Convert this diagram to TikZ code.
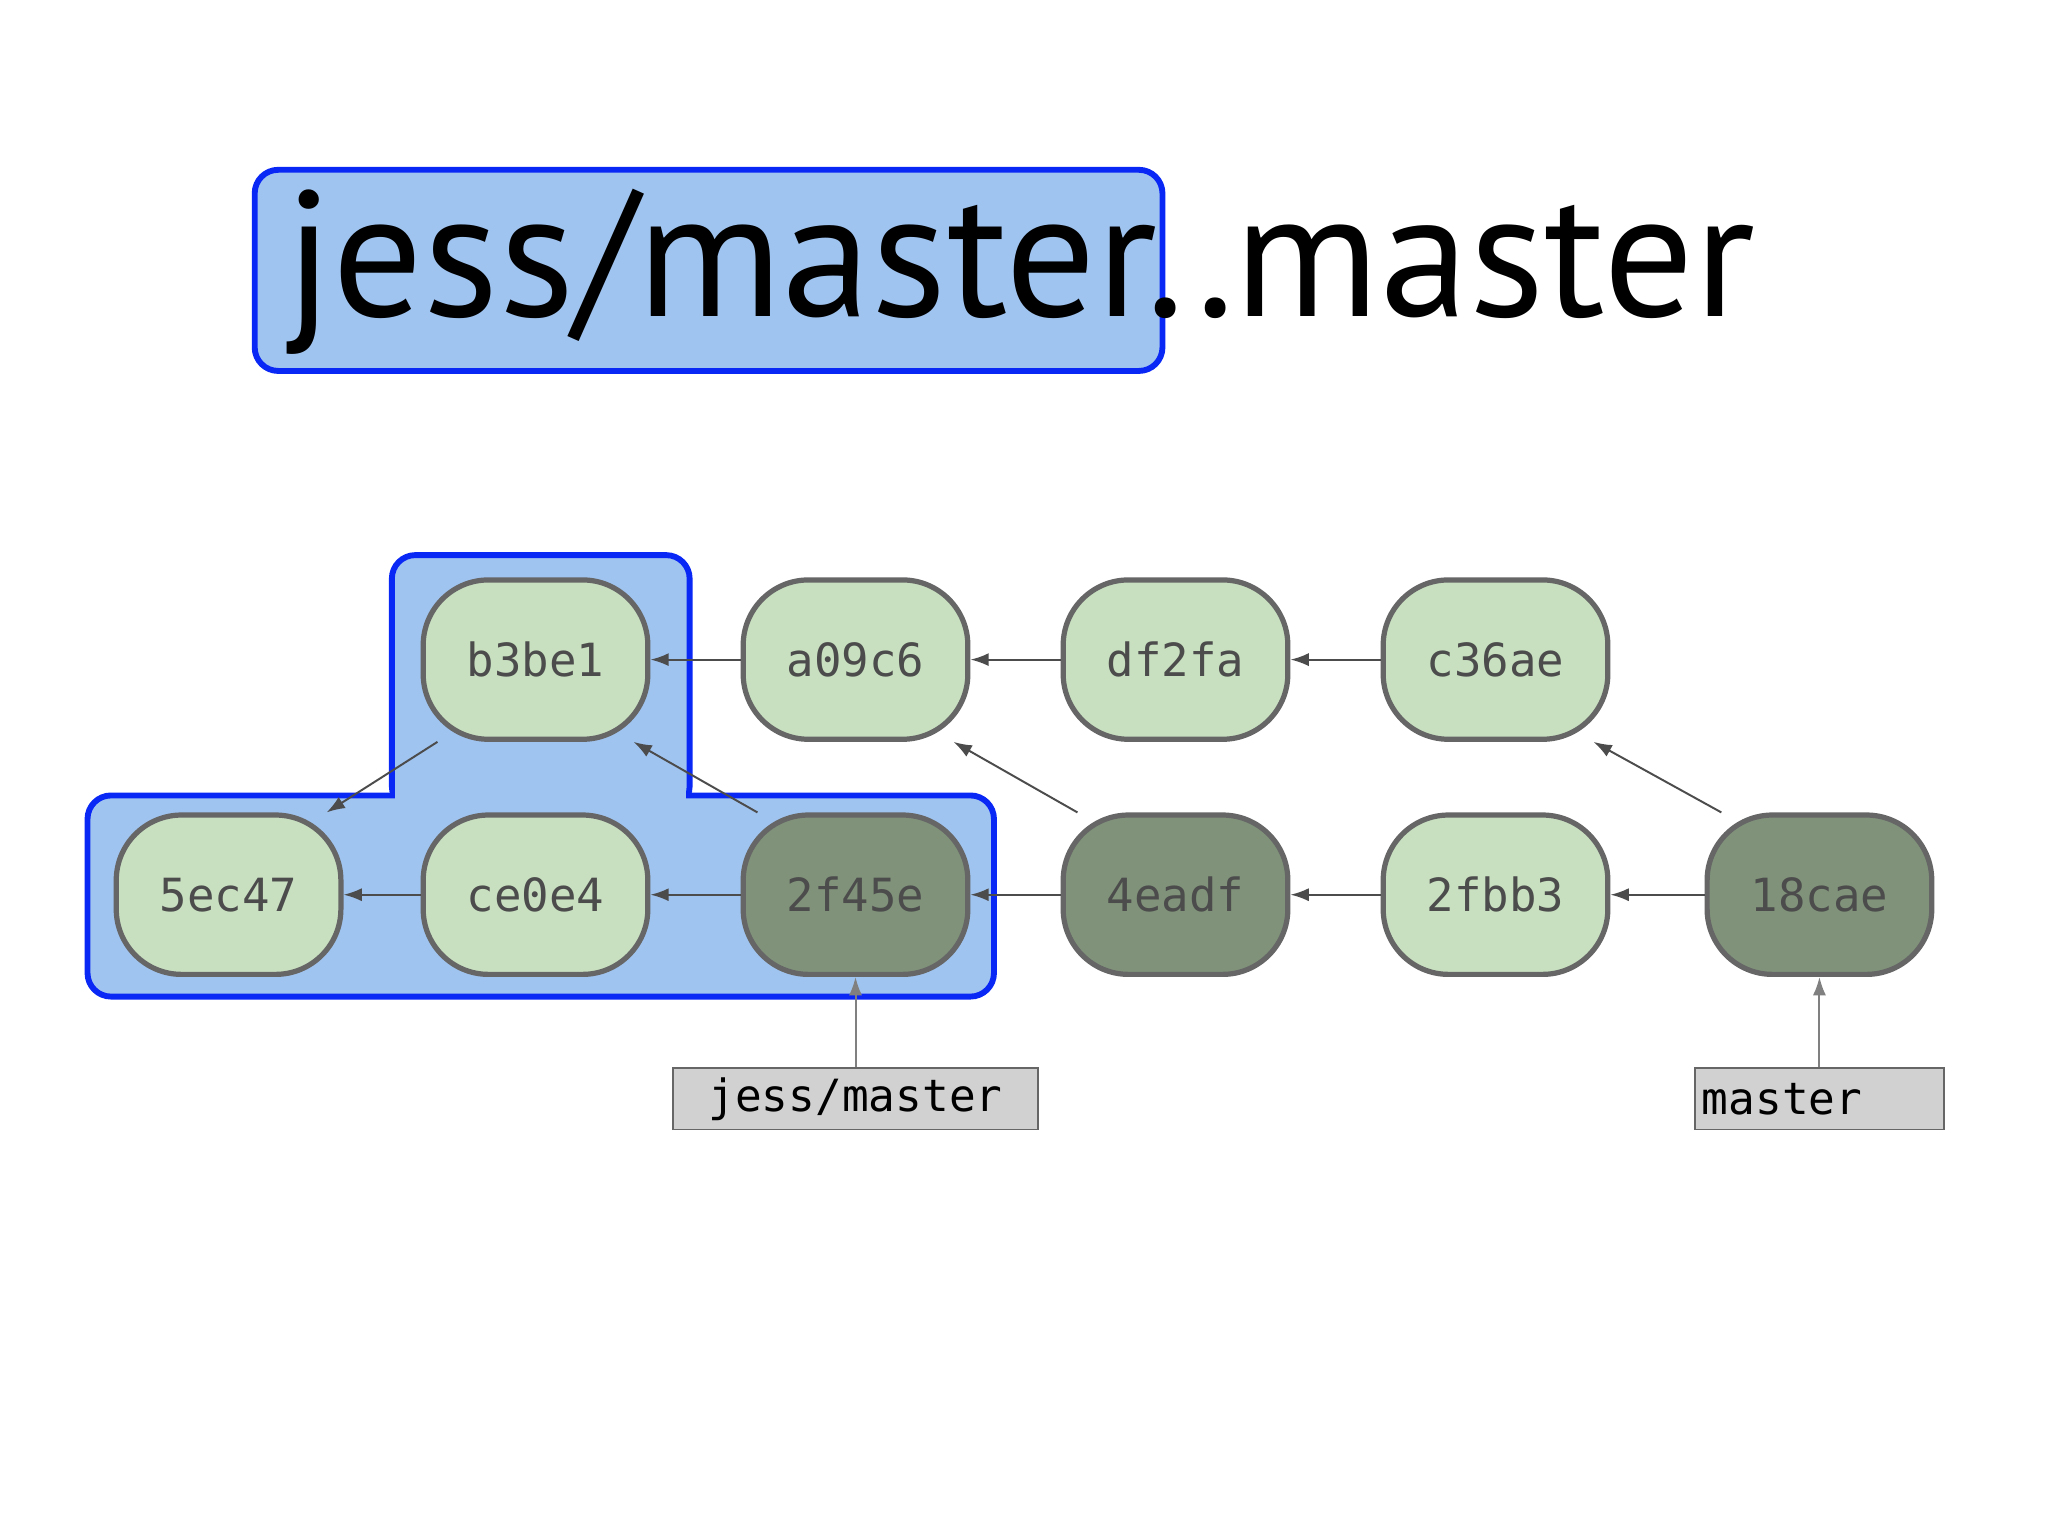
\documentclass[tikz,border=0pt]{standalone}
\usepackage{fontspec}
\setmainfont{PT Sans}
\newfontfamily\commitfont{DejaVu Sans Mono}
\usetikzlibrary{arrows.meta,positioning}
\definecolor{commitgreen}{HTML}{C8E0C0}
\definecolor{commitdark}{HTML}{80937A}
\definecolor{hlfill}{HTML}{A0C4F0}
\definecolor{hlline}{HTML}{0A28F5}
\tikzset{
  commit/.style = {draw=black!60, line width=4pt, fill=commitgreen, rectangle,
                   rounded corners=50pt, minimum width=172pt, minimum height=122pt,
                   font=\commitfont\fontsize{35}{35}\selectfont, text=black!70},
  tip/.style    = {commit, fill=commitdark},
  ref/.style    = {draw=black!60, line width=1.5pt, fill=black!18, rectangle, anchor=north,
                   minimum height=47pt, font=\commitfont\fontsize{34}{34}\selectfont},
  hl/.style     = {draw=hlline, line width=4.5pt, fill=hlfill, rounded corners=18pt},
  parent/.style = {-{Latex[length=14pt,width=10pt]}, line width=1.5pt, draw=black!70}
}
\begin{document}
\begin{tikzpicture}[x=1pt,y=-1pt]
  \useasboundingbox (0,0) rectangle (1568,1176);

  % title with highlighted range start
  \draw[hl] (195,130) rectangle (890,284);
  \node[anchor=base west, font=\fontsize{137}{137}\selectfont, inner sep=0pt] (title)
    at (218,242) {jess/master..master};

  % highlighted commit groups
  \draw[hl] (300,425) rectangle (528,620);
  \draw[hl] (67,609) rectangle (761,763);
  \fill[hlfill] (302.5,600) rectangle (525.5,612);

  % commits, top row
  \node[commit] (b3be1) at (410,505) {b3be1};
  \node[commit] (a09c6) at (655,505) {a09c6};
  \node[commit] (df2fa) at (900,505) {df2fa};
  \node[commit] (c36ae) at (1145,505) {c36ae};

  % commits, bottom row
  \node[commit] (5ec47) at (175,685) {5ec47};
  \node[commit] (ce0e4) at (410,685) {ce0e4};
  \node[tip] (2f45e) at (655,685) {2f45e};
  \node[tip] (4eadf) at (900,685) {4eadf};
  \node[commit] (2fbb3) at (1145,685) {2fbb3};
  \node[tip] (18cae) at (1393,685) {18cae};

  % parent links
  \foreach \kid/\up in {a09c6/b3be1, df2fa/a09c6, c36ae/df2fa,
                        ce0e4/5ec47, 2f45e/ce0e4, 4eadf/2f45e, 2fbb3/4eadf, 18cae/2fbb3}
    \draw[parent] (\kid) -- (\up);
  \draw[parent] (b3be1.220) -- (5ec47.40);
  \draw[parent] (2f45e.140) -- (b3be1.-40);
  \draw[parent] (4eadf.140) -- (a09c6.-40);
  \draw[parent] (18cae.140) -- (c36ae.-40);

  % branch labels
  \node[ref, minimum width=279pt] (jm) at (655,817) {jess/master};
  \node[ref, minimum width=190pt, text width=180pt, align=left] (m) at (1393,817) {master};
  \draw[parent, draw=black!50] (jm) -- (2f45e);
  \draw[parent, draw=black!50] (m) -- (18cae);
\end{tikzpicture}
\end{document}
